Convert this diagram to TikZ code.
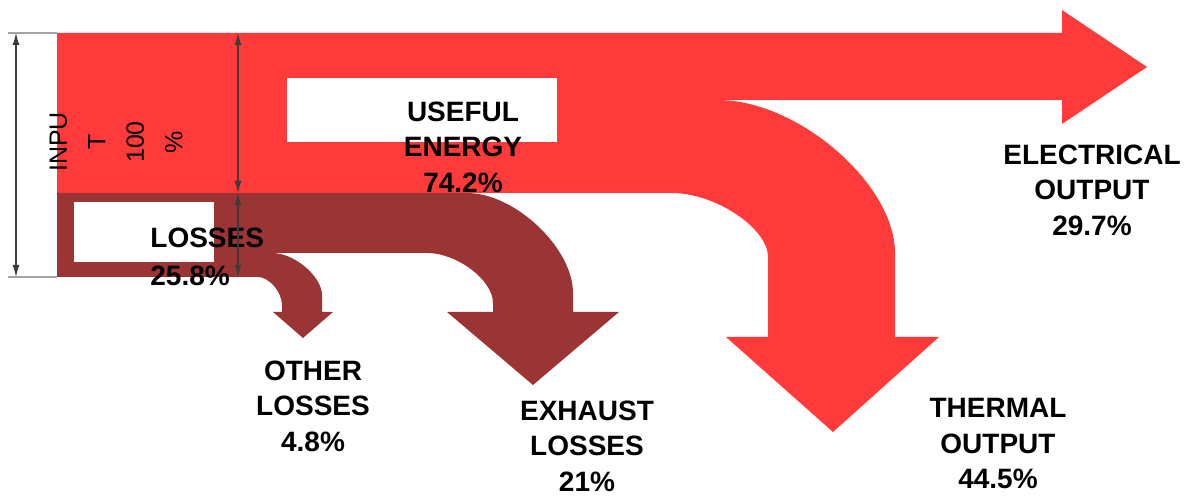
\documentclass[tikz,border=0pt]{standalone}
\usepackage{fontspec}
\setmainfont{Liberation Sans}
\usetikzlibrary{arrows.meta}
\definecolor{flowred}{RGB}{255,58,58}
\definecolor{lossbrown}{RGB}{155,53,53}
\definecolor{dimgray}{RGB}{60,60,60}
\definecolor{extgray}{RGB}{165,165,165}
\begin{document}
\begin{tikzpicture}[x=0.5pt,y=-0.5pt,
  lbl/.style={font=\bfseries\fontsize{14}{17.75}\selectfont, align=center, inner sep=0pt},
  rotlbl/.style={font=\fontsize{12.5}{19.25}\selectfont, align=center, inner sep=0pt, rotate=90},
  dimline/.style={draw=dimgray, line width=0.6pt, {Latex[length=6pt,width=3.5pt]}-{Latex[length=6pt,width=3.5pt]}},
  extline/.style={draw=extgray, line width=0.8pt},
  hole/.style={fill=white}]
\useasboundingbox (0,0) rectangle (1191,496);

% useful energy flow (red)
\fill[flowred] (57,33) -- (1062,33) -- (1062,10) -- (1147,67) -- (1062,124) -- (1062,100)
  -- (718,100) .. controls (798,100) and (895,184) .. (895,253) -- (895,337)
  -- (939,337) -- (833,432) -- (726,337) -- (768,337) -- (768,257)
  .. controls (768,228) and (715,193) .. (672,193) -- (57,193) -- cycle;
\fill[hole] (287,78) rectangle (557,142);

% losses flow (brown)
\fill[lossbrown] (57,193) -- (467,193) .. controls (515,193) and (573,248) .. (573,293)
  -- (573,312) -- (619,312) -- (533,385) -- (447,312) -- (493,312) -- (493,303)
  .. controls (493,280) and (457,253) .. (427,253) -- (272,253)
  .. controls (295,253) and (322,277) .. (322,295) -- (322,312) -- (333,312)
  -- (303,338) -- (273,312) -- (282,312) -- (282,305)
  .. controls (282,292) and (269,277) .. (258,277) -- (57,277) -- cycle;
\fill[hole] (74,202) rectangle (214,262);

% labels
\node[rotlbl] (input) at (116,142) {INPU\\T\\100\\\%};
\node[lbl] (useful) at (463,147) {USEFUL\\ENERGY\\74.2\%};
\node[lbl, align=left, anchor=west, font=\bfseries\fontsize{14}{19}\selectfont] (losses) at (150,257) {LOSSES\\25.8\%};
\node[lbl] (elec) at (1092,190) {ELECTRICAL\\OUTPUT\\29.7\%};
\node[lbl] (other) at (313,406) {OTHER\\LOSSES\\4.8\%};
\node[lbl] (exhaust) at (587,446) {EXHAUST\\LOSSES\\21\%};
\node[lbl] (thermal) at (998,444) {THERMAL\\OUTPUT\\44.5\%};

% dimension lines
\coordinate (extTopL) at (8,33);
\coordinate (extTopR) at (57,33);
\coordinate (extBotL) at (8,277);
\coordinate (extBotR) at (57,277);
\coordinate (inTop) at (16,33);
\coordinate (inBot) at (16,277);
\coordinate (uTop) at (238,33);
\coordinate (uMid) at (238,193);
\coordinate (uBot) at (238,277);
\draw[extline] (extTopL) -- (extTopR);
\draw[extline] (extBotL) -- (extBotR);
\draw[dimline] (inTop) -- (inBot);
\draw[dimline] (uTop) -- (uMid);
\draw[dimline] (uMid) -- (uBot);
\end{tikzpicture}
\end{document}
